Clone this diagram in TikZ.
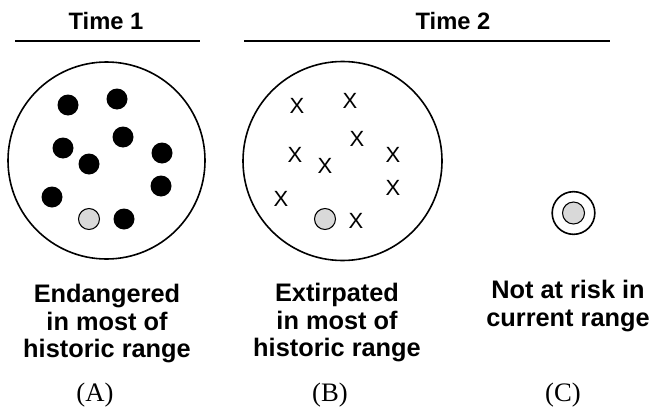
\documentclass[tikz,border=0pt]{standalone}
\usepackage{fontspec}
\setmainfont{Liberation Sans}
\newfontfamily\panelfont{Liberation Serif}

\begin{document}
\begin{tikzpicture}[x=0.75pt, y=-0.75pt,
        habitat/.style={circle, draw, line width=1.2pt, inner sep=0pt},
        dot/.style={circle, fill=black, minimum size=15.75pt, inner sep=0pt},
        relic/.style={circle, draw, line width=0.8pt, fill=black!15, minimum size=15.75pt, inner sep=0pt},
        gone/.style={font=\fontsize{16.5}{16.5}\selectfont, inner sep=0pt},
        title/.style={font=\bfseries\fontsize{17.8}{20}\selectfont, inner sep=0pt},
        caption/.style={font=\bfseries\fontsize{19}{20.6}\selectfont, align=center, anchor=north, inner sep=0pt},
        panel/.style={font=\panelfont\fontsize{20}{20}\selectfont, inner sep=0pt}]
    \useasboundingbox (0,0) rectangle (652,410);

    % headings
    \node [title] (time1) at (106,21.5) {Time 1};
    \node [title] (time2) at (453,21.5) {Time 2};
    \draw [line width=1.5pt] (15,40.7) -- (200,40.7);
    \draw [line width=1.5pt] (244,40.7) -- (610,40.7);

    % (A) endangered
    \node [habitat, minimum size=147.75pt] (rangeA) at (106.5,160.5) {};
    \foreach \px/\py [count=\i] in {68/105, 117/99, 123/137, 63/148, 89/164,
                                    162/153, 161/186, 52/197, 124/219}
        \node [dot] (popA\i) at (\px,\py) {};
    \node [relic] (relicA) at (89,219) {};

    % (B) extirpated
    \node [habitat, minimum size=149.25pt] (rangeB) at (342.5,161) {};
    \foreach \px/\py [count=\i] in {297/106, 350/101, 357/139, 295/155, 325/166,
                                    393/155, 393/188, 281/199, 356/221}
        \node [gone] (popB\i) at (\px,\py) {X};
    \node [relic] (relicB) at (325,219) {};

    % (C) current range
    \node [habitat, minimum size=32pt] (rangeC) at (573.5,213) {};
    \node [relic, minimum size=16.5pt] (relicC) at (573.5,213) {};

    % captions
    \node [caption] (capA) at (107,284) {Endangered\\in most of\\historic range};
    \node [caption] (capB) at (337,283) {Extirpated\\in most of\\historic range};
    \node [caption] (capC) at (568,280) {Not at risk in\\current range};
    \node [panel] (labA) at (95,395) {(A)};
    \node [panel] (labB) at (330,395) {(B)};
    \node [panel] (labC) at (563,395) {(C)};
\end{tikzpicture}
\end{document}
